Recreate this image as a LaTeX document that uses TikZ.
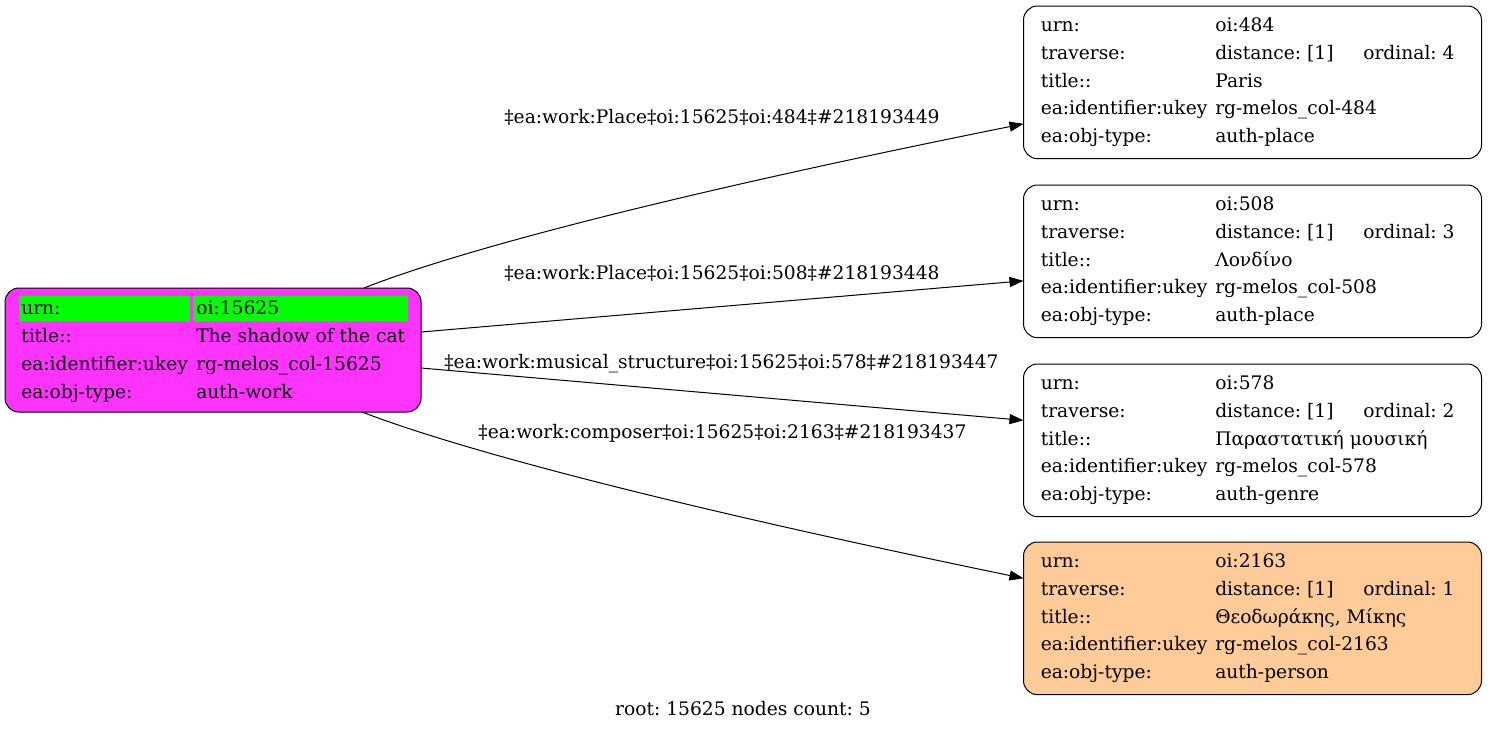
\documentclass[tikz,border=0pt]{standalone}
\usepackage{fontspec}
\setmainfont{DejaVu Serif}
\usetikzlibrary{arrows.meta,calc}
\definecolor{rootfill}{HTML}{FF33FF}
\definecolor{cellgreen}{HTML}{00FF00}
\definecolor{peach}{HTML}{FFCC99}
\frenchspacing
\begin{document}
\frenchspacing
\begin{tikzpicture}[x=0.75pt,y=-0.75pt,
  every node/.style={font=\fontsize{14}{16}\selectfont\frenchspacing},
  box/.style={draw, line width=0.75pt, rounded corners=10.5pt, anchor=north west, inner sep=0pt, outer sep=0pt},
  rbox/.style={box, minimum width=343.5pt, minimum height=114.5pt},
  txt/.style={anchor=base west, inner sep=0pt},
  lbl/.style={anchor=base, inner sep=0pt},
  edge/.style={draw, line width=0.75pt, -{Triangle[length=10.5pt,width=7.5pt]}}]
\useasboundingbox (0,0) rectangle (1488,732);

% root node
\node[box, fill=rootfill, minimum width=312pt, minimum height=93pt] (root) at (5,288) {};
\fill[cellgreen] (19,296) rectangle (190.3,321);
\fill[cellgreen] (193.3,296) rectangle (407.7,321);
\node[txt] (r1a) at (21,314.3) {urn:};
\node[txt] (r1b) at (196,314.3) {oi:15625};
\node[txt] (r2a) at (21,342.3) {title::};
\node[txt] (r2b) at (196,342.3) {The shadow of the cat};
\node[txt] (r3a) at (21,370.3) {ea:identifier:ukey};
\node[txt] (r3b) at (196,370.3) {rg-melos\_col-15625};
\node[txt] (r4a) at (21,398.3) {ea:obj-type:};
\node[txt] (r4b) at (196,398.3) {auth-work};

% right nodes
\node[rbox] (n1) at (1023.5,6) {};
\node[rbox] (n2) at (1023.5,185) {};
\node[rbox] (n3) at (1023.5,364) {};
\node[rbox, fill=peach] (n4) at (1023.5,542) {};

\foreach \nm/\top/\urn/\ord/\ttl/\key/\typ in {
  n1/6/oi:484/4/Paris/484/auth-place,
  n2/185/oi:508/3/Λονδίνο/508/auth-place,
  n3/364/oi:578/2/Παραστατική μουσική/578/auth-genre,
  n4/542/oi:2163/1/{Θεοδωράκης, Μίκης}/2163/auth-person}{
  \node[txt] (\nm-a1) at (1040.5,\top+25.7) {urn:};
  \node[txt] (\nm-b1) at (1215,\top+25.7) {\urn};
  \node[txt] (\nm-a2) at (1040.5,\top+53.45) {traverse:};
  \node[txt] (\nm-b2) at (1215,\top+53.45) {distance: [1]};
  \node[txt] (\nm-c2) at (1363,\top+53.45) {ordinal: \ord};
  \node[txt] (\nm-a3) at (1040.5,\top+81.2) {title::};
  \node[txt] (\nm-b3) at (1215,\top+81.2) {\ttl};
  \node[txt] (\nm-a4) at (1040.5,\top+108.95) {ea:identifier:ukey};
  \node[txt] (\nm-b4) at (1215,\top+108.95) {rg-melos\_col-\key};
  \node[txt] (\nm-a5) at (1040.5,\top+136.7) {ea:obj-type:};
  \node[txt] (\nm-b5) at (1215,\top+136.7) {\typ};
}

% edges
\draw[edge] ($(root.north west)+(359,0)$) .. controls (440,258) and (620,205) .. ($(n1.west)+(0,41.5)$);
\draw[edge] ($(root.east)+(0,-18)$) -- ($(n2.west)+(0,19.5)$);
\draw[edge] ($(root.east)+(0,18)$) -- ($(n3.west)+(0,-20)$);
\draw[edge] ($(root.south west)+(357,0)$) .. controls (440,442) and (620,495) .. ($(n4.west)+(0,-40)$);

% edge labels
\node[lbl] (l1) at (722,123) {‡ea:work:Place‡oi:15625‡oi:484‡\#218193449};
\node[lbl] (l2) at (722,279) {‡ea:work:Place‡oi:15625‡oi:508‡\#218193448};
\node[lbl] (l3) at (721.5,368) {‡ea:work:musical\_structure‡oi:15625‡oi:578‡\#218193447};
\node[lbl] (l4) at (722.5,438.3) {‡ea:work:composer‡oi:15625‡oi:2163‡\#218193437};

\node[lbl] (cap) at (743,715) {root: 15625 nodes count: 5};
\end{tikzpicture}
\end{document}
